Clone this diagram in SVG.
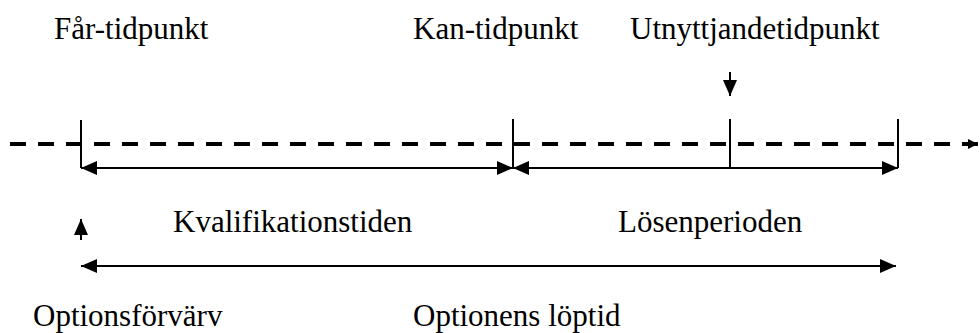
<svg xmlns="http://www.w3.org/2000/svg" width="980" height="333" viewBox="0 0 980 333">
  <style>
    text { font-family: 'Liberation Serif', 'Times New Roman', Times, 'DejaVu Serif', serif; font-size: 31px; fill: #000; }
    .ln { stroke: #000; stroke-width: 2; fill: none; }
    .dash { stroke: #000; stroke-width: 4; stroke-dasharray: 16 12; fill: none; }
  </style>
  <defs>
    <marker id="head" viewBox="0 0 16 14" refX="16" refY="7" markerWidth="16" markerHeight="14" markerUnits="userSpaceOnUse" orient="auto-start-reverse">
      <path d="M0,0 L16,7 L0,14 Z" fill="#000"/>
    </marker>
    <marker id="small" viewBox="0 0 10 10" refX="10" refY="5" markerWidth="10" markerHeight="10" markerUnits="userSpaceOnUse" orient="auto">
      <path d="M0,0 L10,5 L0,10 Z" fill="#000"/>
    </marker>
  </defs>

  <!-- time axis with ticks, spans and pointers -->
  <g id="connectors">
    <line class="dash" x1="10" y1="144" x2="978" y2="144" marker-end="url(#small)"/>
    <line class="ln" x1="81" y1="120" x2="81" y2="168"/>
    <line class="ln" x1="513" y1="119" x2="513" y2="168"/>
    <line class="ln" x1="730" y1="119" x2="730" y2="168"/>
    <line class="ln" x1="898" y1="119" x2="898" y2="168"/>
    <line class="ln" x1="81" y1="168" x2="513" y2="168" marker-start="url(#head)" marker-end="url(#head)"/>
    <line class="ln" x1="513" y1="168" x2="898" y2="168" marker-start="url(#head)" marker-end="url(#head)"/>
    <line class="ln" x1="81" y1="266" x2="896" y2="266" marker-start="url(#head)" marker-end="url(#head)"/>
    <line class="ln" x1="730" y1="72" x2="730" y2="96" marker-end="url(#head)"/>
    <line class="ln" x1="81" y1="240" x2="81" y2="219" marker-end="url(#head)"/>
  </g>

  <g font-family="Liberation Serif, serif">
    <g id="far-tidpunkt"><text x="54" y="39" font-family="Liberation Serif, serif">Får-tidpunkt</text></g>
    <g id="kan-tidpunkt"><text x="413" y="39" font-family="Liberation Serif, serif">Kan-tidpunkt</text></g>
    <g id="utnyttjandetidpunkt"><text x="630" y="39" font-family="Liberation Serif, serif">Utnyttjandetidpunkt</text></g>
    <g id="kvalifikationstiden"><text x="173" y="232" font-family="Liberation Serif, serif">Kvalifikationstiden</text></g>
    <g id="losenperioden"><text x="618" y="232" font-family="Liberation Serif, serif">Lösenperioden</text></g>
    <g id="optionsforvarv"><text x="33" y="326" font-family="Liberation Serif, serif">Optionsförvärv</text></g>
    <g id="optionens-loptid"><text x="413" y="326" font-family="Liberation Serif, serif">Optionens löptid</text></g>
  </g>
</svg>
